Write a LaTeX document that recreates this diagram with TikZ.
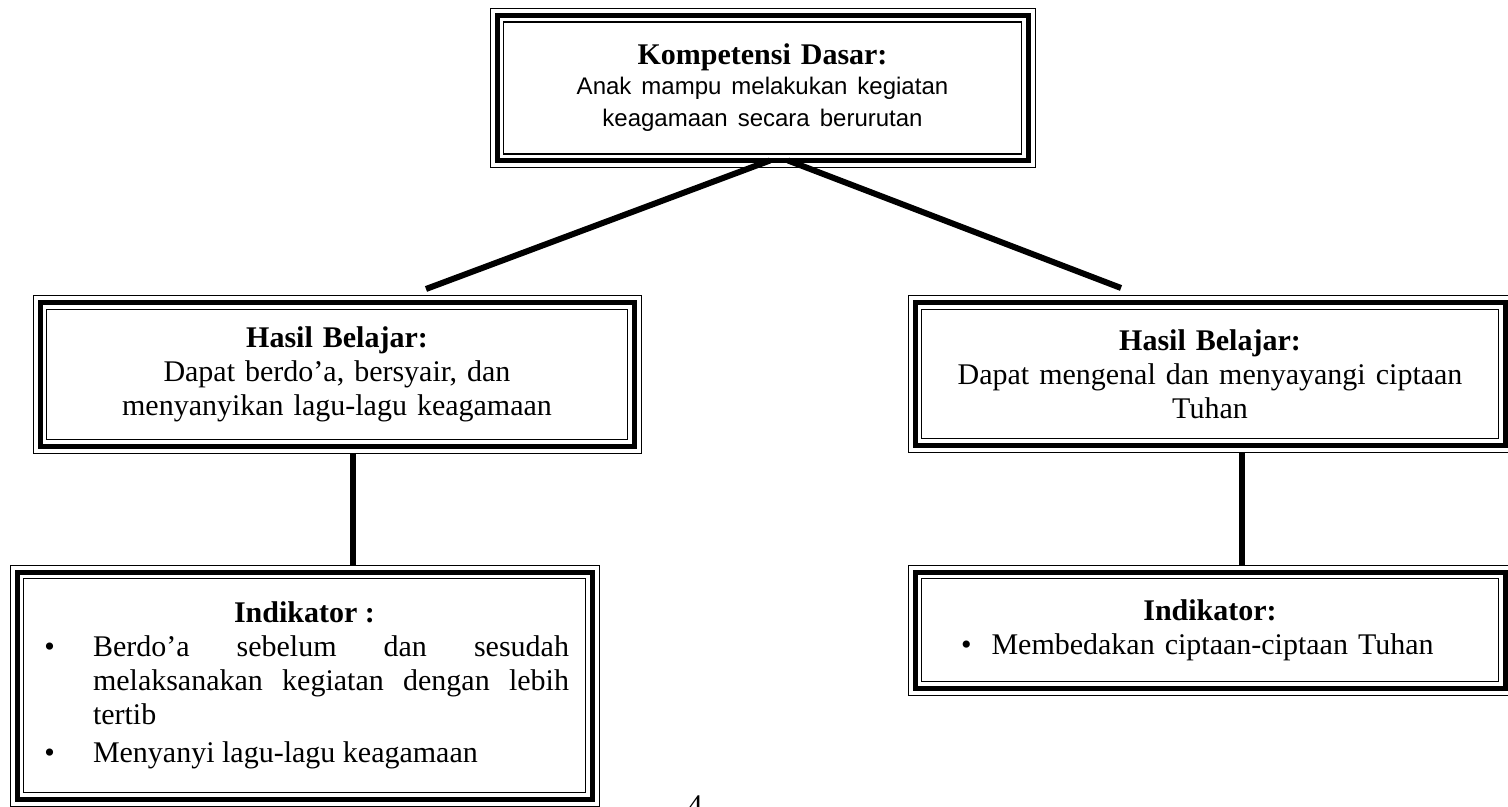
\documentclass[tikz,border=0pt]{standalone}
\usepackage{fontspec}
\setmainfont{Liberation Serif}
\newfontfamily\arialfont{Liberation Sans}
\usepackage{enumitem}
\tikzset{
  kotak/.style={draw, line width=0.5pt, inner sep=0pt, font=\fontsize{15}{17}\selectfont},
  garis/.style={line width=3pt},
}
\begin{document}
\begin{tikzpicture}[x=0.5pt, y=-0.5pt]
  \useasboundingbox (0,0) rectangle (1508,807);

  % Kompetensi dasar
  \node[kotak, minimum width=272.5pt, minimum height=79.5pt, text width=250pt, align=center] (kd) at (762.5,88)
    {\textbf{Kompetensi Dasar:}\\[-1pt]
     {\arialfont\fontsize{12}{16}\selectfont Anak mampu melakukan kegiatan\\[-1pt] keagamaan secara berurutan}};

  % Hasil belajar
  \node[kotak, minimum width=304pt, minimum height=78.5pt, text width=280pt, align=center] (hbl) at (337,374.5)
    {\textbf{Hasil Belajar:}\\ Dapat berdo’a, bersyair, dan\\ menyanyikan lagu-lagu keagamaan};
  \node[kotak, minimum width=302pt, minimum height=78pt, text width=280pt, align=center] (hbr) at (1210,374)
    {\textbf{Hasil Belajar:}\\ Dapat mengenal dan menyayangi ciptaan\\ Tuhan};

  % Indikator
  \node[kotak, minimum width=294.5pt, minimum height=120.5pt, text width=264.5pt, align=justify] (indl) at (304.5,685.5)
    {\hyphenpenalty=10000 \tolerance=10000
     {\centering\textbf{Indikator :}\par}
     \begin{itemize}[label=\textbullet, leftmargin=26.5pt, labelsep=19pt, topsep=0pt, partopsep=0pt, parsep=0pt, itemsep=2pt]
       \item Berdo’a sebelum dan sesudah\linebreak melaksanakan kegiatan dengan lebih\linebreak tertib
       \item Menyanyi lagu-lagu keagamaan
     \end{itemize}};
  \node[kotak, minimum width=302pt, minimum height=65pt, text width=264.5pt] (indr) at (1210,630)
    {{\centering\textbf{Indikator:}\par}
     \begin{itemize}[label=\textbullet, leftmargin=23pt, labelsep=10pt, topsep=0pt, partopsep=0pt, parsep=0pt]
       \item Membedakan ciptaan-ciptaan Tuhan
     \end{itemize}};

  % Bingkai dalam
  \foreach \n in {kd,hbl,hbr,indl,indr}{
    \draw[line width=2.5pt] ([shift={(3.75pt,3.75pt)}]\n.south west) rectangle ([shift={(-3.75pt,-3.75pt)}]\n.north east);
    \draw[line width=0.75pt] ([shift={(7.1pt,7.1pt)}]\n.south west) rectangle ([shift={(-7.1pt,-7.1pt)}]\n.north east);
  }

  % Garis penghubung
  \coordinate (ujungkiri) at (426,289);
  \coordinate (ujungkanan) at (1121,288);
  \draw[garis] ([xshift=3.75pt, yshift=3.75pt]kd.south) -- (ujungkiri);
  \draw[garis] ([xshift=12.75pt, yshift=3.75pt]kd.south) -- (ujungkanan);
  \draw[garis] ([xshift=8pt]hbl.south) -- ([xshift=8pt]hbl.south |- indl.north);
  \draw[garis] ([xshift=16pt]hbr.south) -- ([xshift=16pt]hbr.south |- indr.north);

  % Nomor halaman
  \node[font=\fontsize{15}{17}\selectfont, anchor=base] (hal) at (695,815) {4};
\end{tikzpicture}
\end{document}
